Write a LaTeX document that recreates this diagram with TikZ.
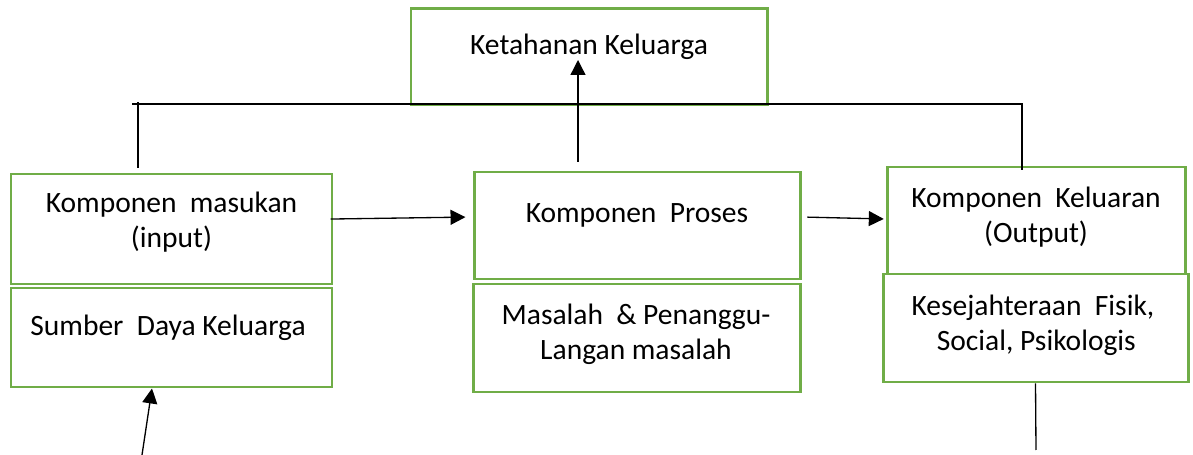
\documentclass[tikz,border=0pt]{standalone}
\usepackage{fontspec}
\setmainfont{Carlito}
\usetikzlibrary{arrows.meta}
\definecolor{frame}{HTML}{70AD47}
\definecolor{ink}{HTML}{000000}
\def\px{0.02cm}
\tikzset{
  box/.style 2 args={draw=frame, line width=1.7pt, inner sep=0pt,
    minimum width=#1*\px, minimum height=#2*\px},
  txt/.style={anchor=base, align=center, inner sep=0pt, text=ink,
    font=\fontsize{16.8}{20.4}\selectfont},
  ln/.style={draw=ink, line width=0.75pt},
  arr/.style={ln, -{Triangle[length=8.5pt, width=8.5pt]}},
}

\begin{document}
\begin{tikzpicture}[x=\px, y=-\px]
  \useasboundingbox (0,0) rectangle (1193,455);

  % boxes (pixel grid, y down)
  \node[box={356}{96}] (top) at (589,57) {};
  \node[box={321}{110}] (masukan) at (171.5,229) {};
  \node[box={321}{99}] (sumber) at (171.5,337.5) {};
  \node[box={326}{107}] (proses) at (637,225.5) {};
  \node[box={327}{108}] (masalah) at (636.5,338) {};
  \node[box={298}{107}] (keluaran) at (1036,220.5) {};
  \node[box={305}{108}, fill=white] (sejahtera) at (1035.5,328) {};

  % texts (base = last line)
  \node[txt] (tTop) at (589,55) {Ketahanan Keluarga};
  \node[txt] (tMasukan) at (171.5,248) {Komponen\ \ masukan\\(input)};
  \node[txt] (tSumber) at (168,336) {Sumber\ \ Daya Keluarga};
  \node[txt] (tProses) at (637,223) {Komponen\ \ Proses};
  \node[txt] (tMasalah) at (636,360) {Masalah\ \ \& Penanggu-\\Langan masalah};
  \node[txt] (tKeluaran) at (1036,243) {Komponen\ \ Keluaran\\(Output)};
  \node[txt] (tSejahtera) at (1033,351) {Kesejahteraan\ \ Fisik,\\\ Social, Psikologis};

  % connector ends
  \coordinate (barL) at (132,104);
  \coordinate (barR) at (1022,104);
  \coordinate (legL) at (138,168);
  \coordinate (legR) at (1022,170);
  \coordinate (upFoot) at (578,162);
  \coordinate (upTip) at (578,60);
  \coordinate (inFoot) at (142,455);
  \coordinate (outFoot) at (1036,450);

  % bracket under the top box
  \draw[ln] (barL) -- (barR) -- (legR);
  \draw[ln] (legL) -- (legL |- 0,102);
  \draw[arr] (upFoot) -- (upTip);

  % flow
  \draw[arr, shorten <=-1.7pt, shorten >=4pt] (masukan.east |- 0,219) -- (proses.west |- 0,217);
  \draw[arr, shorten <=3.4pt, shorten >=1pt] (proses.east |- 0,217) -- (keluaran.west |- 0,219);
  \draw[arr] (inFoot) -- (sumber.south -| 152,0);
  \draw[ln] (sejahtera.south) -- (outFoot);
\end{tikzpicture}
\end{document}
